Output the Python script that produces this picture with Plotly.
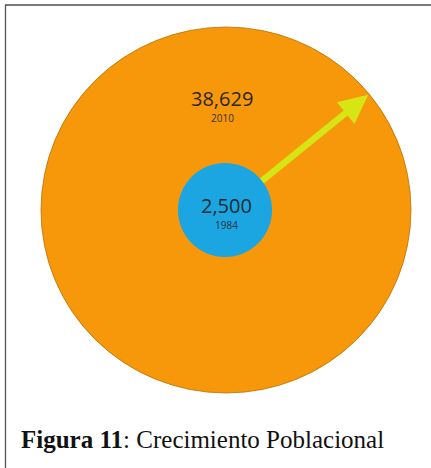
import math
import plotly.graph_objects as go

# ---- data ----
years = ["1984", "2010"]
population = [2500, 38629]
pop_labels = ["2,500", "38,629"]
caption_bold = "Figura 11"
caption_rest = ": Crecimiento Poblacional"

# ---- styling / layout constants ----
W, H = 431, 468
cx, cy = 226, 210          # common centre of the circles (pixel units)
r_max = 185                 # radius of the largest circle
k = r_max / math.sqrt(max(population))   # area-proportional scale
colors = ["#1BA6E2", "#F7980B"]
arrow_color = "#D8E514"
arrow_angle = 39            # degrees above horizontal

radii = [k * math.sqrt(v) for v in population]

fig = go.Figure()
# invisible trace to set up axes
fig.add_trace(go.Scatter(x=[0, W], y=[0, H], mode="markers",
                         marker=dict(opacity=0), hoverinfo="skip",
                         showlegend=False))

shapes = []
# big circle (2010)
r_big = radii[1]
shapes.append(dict(type="circle", xref="x", yref="y",
                   x0=cx - r_big, x1=cx + r_big, y0=cy - r_big + 2, y1=cy + r_big - 2,
                   fillcolor=colors[1], line=dict(color="#B86F00", width=0.8),
                   layer="above"))
# arrow from centre to edge of big circle
a = math.radians(arrow_angle)
tip_x = cx + (r_big - 2) * math.cos(a)
tip_y = cy - (r_big - 2) * math.sin(a)
head_len = 29
head_half = 14
base_x = tip_x - head_len * math.cos(a)
base_y = tip_y + head_len * math.sin(a)
px, py = math.sin(a), math.cos(a)
shapes.append(dict(type="line", xref="x", yref="y",
                   x0=cx, y0=cy, x1=base_x + 2 * math.cos(a), y1=base_y - 2 * math.sin(a),
                   line=dict(color=arrow_color, width=6.5), layer="above"))
path = (f"M {tip_x},{tip_y} L {base_x + head_half * px},{base_y + head_half * py} "
        f"L {base_x - head_half * px},{base_y - head_half * py} Z")
shapes.append(dict(type="path", xref="x", yref="y", path=path,
                   fillcolor=arrow_color, line=dict(width=0), layer="above"))
# small circle (1984)
r_small = radii[0]
shapes.append(dict(type="circle", xref="x", yref="y",
                   x0=cx - 1 - r_small, x1=cx - 1 + r_small,
                   y0=cy - r_small, y1=cy + r_small,
                   fillcolor=colors[0], line=dict(width=0), layer="above"))
# frame lines
shapes.append(dict(type="line", xref="x", yref="y", x0=5, x1=W, y0=5, y1=5,
                   line=dict(color="#7A7A7A", width=2)))
shapes.append(dict(type="line", xref="x", yref="y", x0=5.5, x1=5.5, y0=5, y1=H,
                   line=dict(color="#555555", width=1.3)))

annotations = [
    dict(x=cx - 4, y=98, text=pop_labels[1], showarrow=False, xref="x", yref="y",
         height=22, font=dict(family="Open Sans", size=20, color="#2B2620")),
    dict(x=cx - 4, y=118, text=years[1], showarrow=False, xref="x", yref="y",
         height=12, font=dict(family="Open Sans", size=10, color="#3A3020")),
    dict(x=cx, y=205, text=pop_labels[0], showarrow=False, xref="x", yref="y",
         height=22, font=dict(family="Open Sans", size=20, color="#1E2A33")),
    dict(x=cx, y=225, text=years[0], showarrow=False, xref="x", yref="y",
         height=12, font=dict(family="Open Sans", size=10, color="#24323C")),
    dict(x=19, y=439, xanchor="left", text=f"<b>{caption_bold}</b>{caption_rest}",
         showarrow=False, xref="x", yref="y",
         font=dict(family="Liberation Serif", size=25, color="#111111")),
]

fig.update_layout(
    width=W, height=H,
    margin=dict(l=0, r=0, t=0, b=0),
    paper_bgcolor="white", plot_bgcolor="white",
    xaxis=dict(range=[0, W], visible=False, fixedrange=True),
    yaxis=dict(range=[H, 0], visible=False, fixedrange=True),
    shapes=shapes, annotations=annotations,
    showlegend=False,
)

fig.write_html("out.html", config={"displayModeBar": False},
               post_script="document.body.style.margin='0';document.body.style.overflow='hidden';")
